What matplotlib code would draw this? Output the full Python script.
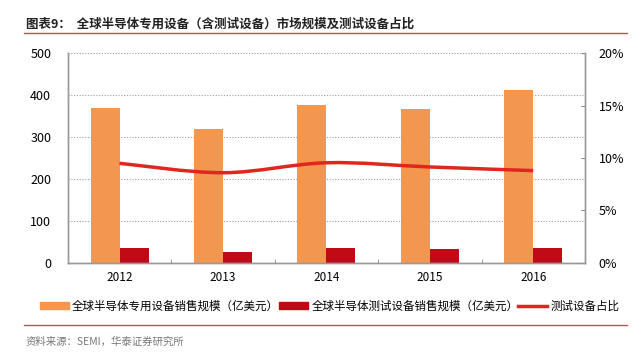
import matplotlib
matplotlib.use("Agg")
import matplotlib.pyplot as plt
from matplotlib.path import Path
from matplotlib.patches import PathPatch, Patch
from matplotlib.lines import Line2D
import numpy as np

plt.rcParams['font.family'] = ['Noto Sans CJK SC', 'DejaVu Sans']

years = ['2012', '2013', '2014', '2015', '2016']
total_equipment = [370, 319, 376, 366, 412]
test_equipment = [35, 27, 36, 33, 36]
test_share = [9.5, 8.6, 9.55, 9.15, 8.8]

c_orange = '#F29650'
c_dark = '#C00A16'
c_line = '#E0261E'

fig = plt.figure(figsize=(6.4, 3.52), dpi=100)
ax = fig.add_axes([0.106, 0.253, 0.808, 0.596])
ax2 = ax.twinx()

x = np.arange(len(years))
w = 0.28
ax.bar(x - w/2, total_equipment, width=w, color=c_orange, zorder=2)
ax.bar(x + w/2, test_equipment, width=w, color=c_dark, zorder=2)
ax.set_xlim(-0.5, len(years) - 0.5)
ax.set_ylim(0, 500)
ax.set_yticks([0, 100, 200, 300, 400, 500])
ax.yaxis.grid(True, linestyle=(0, (1, 1.5)), color='#a0a0a0', linewidth=0.8, zorder=0)
ax.set_axisbelow(True)
ax.set_xticks(x)
ax.set_xticklabels(years)
ax.set_xticks(np.arange(len(years) + 1) - 0.5, minor=True)
ax.tick_params(axis='x', which='major', length=0, labelsize=8.5, pad=6)
ax.tick_params(axis='x', which='minor', length=3, direction='in', color='#888888')
ax.tick_params(axis='y', length=0, labelsize=9, pad=12)

# smooth line as Bezier path through the data points
ax2.set_ylim(0, 20)
ax2.set_yticks([0, 5, 10, 15, 20])
ax2.set_yticklabels(['0%', '5%', '10%', '15%', '20%'])
ax2.tick_params(axis='y', length=3, direction='in', color='#888888', labelsize=9, pad=10)
pts = np.column_stack([x, test_share]).astype(float)
verts = [tuple(pts[0])]
codes = [Path.MOVETO]
t = 1/6
for i in range(len(pts) - 1):
    p0 = pts[i - 1] if i > 0 else pts[i]
    p1 = pts[i]
    p2 = pts[i + 1]
    p3 = pts[i + 2] if i + 2 < len(pts) else pts[i + 1]
    c1 = p1 + (p2 - p0) * t
    c2 = p2 - (p3 - p1) * t
    verts += [tuple(c1), tuple(c2), tuple(p2)]
    codes += [Path.CURVE4] * 3
ax2.add_patch(PathPatch(Path(verts, codes), facecolor='none', edgecolor=c_line, linewidth=2.5, zorder=3))

for a in (ax, ax2):
    a.spines['top'].set_visible(False)
    for s in ('left', 'right', 'bottom'):
        a.spines[s].set_color('#999999')
        a.spines[s].set_linewidth(1.0)

# legend
handles = [Patch(color=c_orange), Patch(color=c_dark), Line2D([0], [0], color=c_line, lw=2.5)]
labels = ['全球半导体专用设备销售规模（亿美元）', '全球半导体测试设备销售规模（亿美元）', '测试设备占比']
fig.legend(handles, labels, loc='center', bbox_to_anchor=(0.515, 0.131), ncol=3, frameon=False,
           fontsize=8.3, handlelength=2.5, handleheight=0.6, columnspacing=0.0, handletextpad=0.3)

# title and lines
fig.text(0.040, 0.932, '图表9：  全球半导体专用设备（含测试设备）市场规模及测试设备占比',
         fontsize=9, fontweight='bold', va='center', ha='left', color='#222222')
fig.add_artist(Line2D([0.0375, 0.98], [0.906, 0.906], color='#C0504D', lw=1.0))
fig.add_artist(Line2D([0.0375, 0.98], [0.077, 0.077], color='#C0504D', lw=1.0))
fig.text(0.040, 0.030, '资料来源：SEMI，华泰证券研究所', fontsize=7.5, color='#777777', va='center', ha='left')

fig.savefig('out.png', dpi=100)
